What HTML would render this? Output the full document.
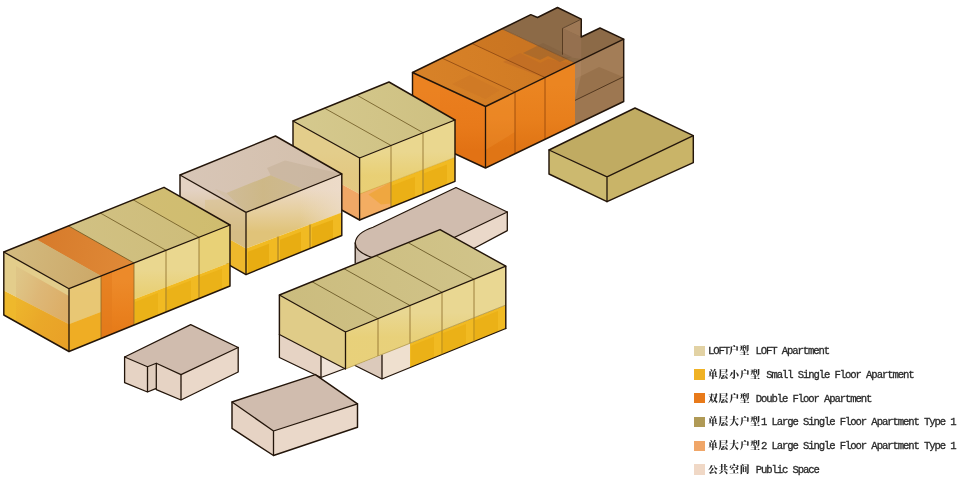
<!DOCTYPE html>
<html lang="zh"><head><meta charset="utf-8"><title>Apartment types</title>
<style>
html,body{margin:0;padding:0;background:#fff}
body{width:960px;height:483px;position:relative;overflow:hidden;font-family:"Liberation Mono","Noto Serif CJK SC",serif}
svg{position:absolute;left:0;top:0}
.row{position:absolute;left:694.2px;height:16px;line-height:16px;white-space:pre;font-size:10.6px;color:#2a2a2a}
.row i{position:absolute;left:0;top:2.95px;width:10.5px;height:10.4px;display:block}
.row .t{position:absolute;left:13.8px;top:0.5px}
.row b{font-weight:normal}
.row .zh{font-family:"Liberation Mono","Noto Serif CJK SC",serif;font-weight:900;font-size:9.8px;letter-spacing:0.8px}
.row .en{font-family:"Liberation Mono","Noto Serif CJK SC",monospace;letter-spacing:-1.1px;-webkit-text-stroke:0.3px #2a2a2a}
</style></head><body>
<svg width="960" height="483" viewBox="0 0 960 483">
<defs><linearGradient id="g4l" gradientUnits="userSpaceOnUse" x1="450.0" y1="90.0" x2="450.0" y2="150.0"><stop offset="0" stop-color="#ea7e1e" stop-opacity="1"/><stop offset="0.6" stop-color="#e87a1a" stop-opacity="1"/><stop offset="1" stop-color="#e27214" stop-opacity="1"/></linearGradient><linearGradient id="g4r" gradientUnits="userSpaceOnUse" x1="530.0" y1="85.0" x2="530.0" y2="147.0"><stop offset="0" stop-color="#eb8521" stop-opacity="1"/><stop offset="0.55" stop-color="#e87f1c" stop-opacity="1"/><stop offset="1" stop-color="#e07515" stop-opacity="1"/></linearGradient><linearGradient id="g4t" gradientUnits="userSpaceOnUse" x1="412.5" y1="72.5" x2="575.0" y2="62.9"><stop offset="0" stop-color="#d88228" stop-opacity="1"/><stop offset="1" stop-color="#cf7922" stop-opacity="1"/></linearGradient><linearGradient id="gl1" gradientUnits="userSpaceOnUse" x1="407.3" y1="151.8" x2="407.3" y2="175.7"><stop offset="0" stop-color="#e6c44e" stop-opacity="0"/><stop offset="1" stop-color="#e6c44e" stop-opacity="0.4"/></linearGradient><linearGradient id="gl2" gradientUnits="userSpaceOnUse" x1="326.3" y1="152.2" x2="326.3" y2="175.8"><stop offset="0" stop-color="#e2c070" stop-opacity="0"/><stop offset="1" stop-color="#e2c070" stop-opacity="0.35"/></linearGradient><linearGradient id="g3t" gradientUnits="userSpaceOnUse" x1="293.0" y1="121.0" x2="455.0" y2="120.0"><stop offset="0" stop-color="#d5c98e" stop-opacity="1"/><stop offset="1" stop-color="#cec081" stop-opacity="1"/></linearGradient><linearGradient id="g2l" gradientUnits="userSpaceOnUse" x1="213.0" y1="190.0" x2="213.0" y2="232.0"><stop offset="0" stop-color="#e4d2c3" stop-opacity="1"/><stop offset="0.45" stop-color="#dcc7a6" stop-opacity="1"/><stop offset="1" stop-color="#d4bb85" stop-opacity="1"/></linearGradient><linearGradient id="g2r" gradientUnits="userSpaceOnUse" x1="294.0" y1="190.0" x2="294.0" y2="232.0"><stop offset="0" stop-color="#ebd8c2" stop-opacity="1"/><stop offset="0.5" stop-color="#e6cf9f" stop-opacity="1"/><stop offset="1" stop-color="#e0c379" stop-opacity="1"/></linearGradient><linearGradient id="g2r2" gradientUnits="userSpaceOnUse" x1="300.0" y1="200.0" x2="342.0" y2="200.0"><stop offset="0" stop-color="#eddccb" stop-opacity="0"/><stop offset="1" stop-color="#eddccb" stop-opacity="0.75"/></linearGradient><linearGradient id="g2t" gradientUnits="userSpaceOnUse" x1="180.0" y1="175.0" x2="341.8" y2="174.0"><stop offset="0" stop-color="#d8c6b7" stop-opacity="1"/><stop offset="1" stop-color="#d3bfab" stop-opacity="1"/></linearGradient><linearGradient id="g2c" gradientUnits="userSpaceOnUse" x1="226.0" y1="193.0" x2="300.0" y2="190.0"><stop offset="0" stop-color="#cdb98f" stop-opacity="0.75"/><stop offset="0.5" stop-color="#ccb680" stop-opacity="0.85"/><stop offset="1" stop-color="#cbb78a" stop-opacity="0.8"/></linearGradient><linearGradient id="g1l" gradientUnits="userSpaceOnUse" x1="16.0" y1="280.0" x2="69.0" y2="300.0"><stop offset="0" stop-color="#dcc083" stop-opacity="0.6"/><stop offset="0.45" stop-color="#dcb272" stop-opacity="0.8"/><stop offset="1" stop-color="#dba860" stop-opacity="0.85"/></linearGradient><linearGradient id="g1l2" gradientUnits="userSpaceOnUse" x1="16.0" y1="300.0" x2="69.0" y2="330.0"><stop offset="0" stop-color="#ecb22c" stop-opacity="0.5"/><stop offset="0.5" stop-color="#e9a428" stop-opacity="0.8"/><stop offset="1" stop-color="#e89c26" stop-opacity="0.8"/></linearGradient><linearGradient id="gl3" gradientUnits="userSpaceOnUse" x1="149.5" y1="269.6" x2="149.5" y2="293.4"><stop offset="0" stop-color="#e6c44e" stop-opacity="0"/><stop offset="1" stop-color="#e6c44e" stop-opacity="0.4"/></linearGradient><linearGradient id="g1or" gradientUnits="userSpaceOnUse" x1="117.0" y1="280.0" x2="117.0" y2="336.0"><stop offset="0" stop-color="#ec8a2a" stop-opacity="1"/><stop offset="0.5" stop-color="#ea8220" stop-opacity="1"/><stop offset="1" stop-color="#e57a18" stop-opacity="1"/></linearGradient><linearGradient id="g1t" gradientUnits="userSpaceOnUse" x1="3.8" y1="252.0" x2="230.0" y2="225.0"><stop offset="0" stop-color="#d3c388" stop-opacity="1"/><stop offset="1" stop-color="#cdbc78" stop-opacity="1"/></linearGradient><linearGradient id="g1o" gradientUnits="userSpaceOnUse" x1="35.6" y1="239.1" x2="134.0" y2="263.0"><stop offset="0" stop-color="#d67a2a" stop-opacity="1"/><stop offset="1" stop-color="#e08a38" stop-opacity="1"/></linearGradient><linearGradient id="g1f" gradientUnits="userSpaceOnUse" x1="3.8" y1="252.0" x2="101.0" y2="276.0"><stop offset="0" stop-color="#d3bb80" stop-opacity="1"/><stop offset="1" stop-color="#cca868" stop-opacity="1"/></linearGradient><linearGradient id="gp1" gradientUnits="userSpaceOnUse" x1="355.0" y1="250.0" x2="372.0" y2="250.0"><stop offset="0" stop-color="#cdbfb4" stop-opacity="1"/><stop offset="1" stop-color="#e4d3c6" stop-opacity="1"/></linearGradient><linearGradient id="gl4" gradientUnits="userSpaceOnUse" x1="425.6" y1="312.4" x2="425.6" y2="337.0"><stop offset="0" stop-color="#e6c44e" stop-opacity="0"/><stop offset="1" stop-color="#e6c44e" stop-opacity="0.35"/></linearGradient><linearGradient id="g5t" gradientUnits="userSpaceOnUse" x1="279.4" y1="295.0" x2="505.8" y2="266.2"><stop offset="0" stop-color="#cbbc7e" stop-opacity="1"/><stop offset="1" stop-color="#d1c48a" stop-opacity="1"/></linearGradient></defs>
<!-- block 4 double floor + large type 1 -->
<polygon points="581.3,19.2 562.5,28.3 562.5,58.3 581.3,49.2" fill="#9e7855"/>
<polygon points="412.5,72.5 485.5,106.5 485.5,168.0 412.5,134.0" fill="url(#g4l)"/>
<polygon points="485.5,106.5 575.0,62.9 575.0,124.9 485.5,168.0" fill="url(#g4r)"/>
<polygon points="575.0,62.9 623.7,39.2 623.7,101.5 575.0,124.9" fill="#a37d57"/>
<polygon points="575.0,100.4 623.7,76.7 623.7,101.5 575.0,124.9" fill="#9d7751"/>
<polygon points="575.0,62.9 581.0,60.0 581.0,76.0 575.0,79.0" fill="#ab8560" fill-opacity="0.7"/>
<polygon points="581.0,76.0 599.0,67.0 623.7,77.2 575.0,100.0" fill="#96704a" fill-opacity="0.85"/>
<line x1="575.0" y1="100.4" x2="623.7" y2="76.7" stroke="#4a3018" stroke-width="0.9"/>
<polygon points="412.5,72.5 502.0,28.9 575.0,62.9 485.5,106.5" fill="url(#g4t)"/>
<polygon points="502.0,28.9 530.8,14.7 537.5,17.5 557.5,7.5 581.3,19.2 562.5,28.3 581.2,37.0 600.0,28.0 623.7,39.2 575.0,62.9" fill="#8c6a47"/>
<polygon points="562.5,28.3 581.2,37.0 581.2,59.0 562.5,56.3" fill="#977251" fill-opacity="0.8"/>
<polygon points="472.0,43.5 502.0,28.9 575.0,62.9 545.0,77.5" fill="#b9681f" fill-opacity="0.3"/>
<polygon points="503.0,62.0 520.0,53.0 540.0,63.0 548.0,59.0 574.0,64.0 545.0,78.0" fill="#bd6a26" fill-opacity="0.55"/>
<polygon points="523.0,53.0 543.0,43.0 572.0,57.0 560.0,62.0 548.0,56.0 540.0,60.0" fill="#7a5a3a" fill-opacity="0.35"/>
<polygon points="452.0,84.0 470.0,75.0 500.0,90.0 485.5,99.0" fill="#c87426" fill-opacity="0.35"/>
<polygon points="485.5,106.5 515.0,92.1 515.0,132.1 485.5,150.0" fill="#f59a3a" fill-opacity="0.25"/>
<polygon points="412.5,72.5 440.0,85.5 440.0,125.0 412.5,112.0" fill="#f08a2a" fill-opacity="0.3"/>
<line x1="515.0" y1="92.1" x2="515.0" y2="153.8" stroke="#9a4a0c" stroke-width="0.9"/>
<line x1="515.0" y1="92.1" x2="442.0" y2="58.1" stroke="#8a4510" stroke-width="0.8"/>
<line x1="545.0" y1="77.5" x2="545.0" y2="139.4" stroke="#9a4a0c" stroke-width="0.9"/>
<line x1="545.0" y1="77.5" x2="472.0" y2="43.5" stroke="#8a4510" stroke-width="0.8"/>
<line x1="575.0" y1="62.9" x2="502.0" y2="28.9" stroke="#7a4a20" stroke-width="0.7"/>
<path d="M412.5,72.5 L530.8,14.7 L537.5,17.5 L557.5,7.5 L581.3,19.2 L581.2,37.0 L600.0,28.0 L623.7,39.2 L485.5,106.5 Z" fill="none" stroke="#23150a" stroke-width="1.45" stroke-linejoin="round" stroke-linecap="round"/>
<path d="M581.3,19.2 L562.5,28.3 L562.5,54.3" fill="none" stroke="#4a3018" stroke-width="0.8" stroke-linejoin="round" stroke-linecap="round"/>
<path d="M412.5,72.5 L412.5,134.0 L485.5,168.0 L623.7,101.5 L623.7,39.2" fill="none" stroke="#23150a" stroke-width="1.45" stroke-linejoin="round" stroke-linecap="round"/>
<line x1="485.5" y1="106.5" x2="485.5" y2="168.0" stroke="#23150a" stroke-width="1.3"/>
<!-- block 6 large type 1 -->
<polygon points="549.0,150.0 607.0,176.8 607.0,201.7 549.0,174.0" fill="#ccb96f"/>
<polygon points="607.0,176.8 693.3,135.7 693.3,162.6 607.0,201.7" fill="#c9b468"/>
<polygon points="549.0,150.0 635.0,108.0 693.3,135.7 607.0,176.8" fill="#c0ab62"/>
<path d="M549.0,150.0 L635.0,108.0 L693.3,135.7 L693.3,162.6 L607.0,201.7 L549.0,174.0 Z" fill="none" stroke="#23150a" stroke-width="1.45" stroke-linejoin="round" stroke-linecap="round"/>
<path d="M549.0,150.0 L607.0,176.8 L693.3,135.7 M607.0,176.8 L607.0,201.7" fill="none" stroke="#23150a" stroke-width="1.3" stroke-linejoin="round" stroke-linecap="round"/>
<!-- block 3 loft -->
<polygon points="293.0,121.0 359.6,158.0 359.6,194.0 293.0,157.5" fill="#e3cd8b"/>
<polygon points="293.0,157.5 359.6,194.0 359.6,220.0 293.0,183.0" fill="#f0a766"/>
<polygon points="359.6,158.0 455.0,120.0 455.0,157.3 359.6,194.0" fill="#ead78f"/>
<polygon points="359.6,158.0 455.0,120.0 455.0,157.3 359.6,194.0" fill="url(#gl1)"/>
<polygon points="293.0,121.0 359.6,158.0 359.6,194.0 293.0,157.5" fill="url(#gl2)"/>
<polygon points="359.6,194.0 455.0,157.3 455.0,181.3 359.6,220.0" fill="#f1ba22"/>
<polygon points="359.6,194.0 391.0,181.9 391.0,207.3 359.6,220.0" fill="#f3ad62"/>
<polygon points="392.0,185.5 415.0,176.7 415.0,197.5 392.0,206.9" fill="#e6a80c" fill-opacity="0.55"/>
<polygon points="424.0,173.2 447.0,164.4 447.0,184.5 424.0,193.9" fill="#e6a80c" fill-opacity="0.55"/>
<polygon points="368.4,194.5 391.0,181.9 391.0,203.5 381.0,204.5" fill="#eda536" fill-opacity="0.75"/>
<polygon points="293.0,121.0 389.0,82.0 455.0,120.0 359.6,158.0" fill="url(#g3t)"/>
<line x1="391.0" y1="145.5" x2="391.0" y2="207.3" stroke="#8a6a2a" stroke-width="0.8"/>
<line x1="391.0" y1="145.5" x2="324.6" y2="108.2" stroke="#6b5520" stroke-width="0.8"/>
<line x1="423.0" y1="132.7" x2="423.0" y2="194.3" stroke="#8a6a2a" stroke-width="0.8"/>
<line x1="423.0" y1="132.7" x2="356.8" y2="95.1" stroke="#6b5520" stroke-width="0.8"/>
<line x1="359.6" y1="194.0" x2="455.0" y2="157.3" stroke="#b8952e" stroke-width="0.6" stroke-opacity="0.6"/>
<path d="M293.0,121.0 L389.0,82.0 L455.0,120.0 L455.0,181.3 L359.6,220.0 L293.0,183.0 Z" fill="none" stroke="#23150a" stroke-width="1.45" stroke-linejoin="round" stroke-linecap="round"/>
<path d="M293.0,121.0 L359.6,158.0 L455.0,120.0 M359.6,158.0 L359.6,220.0" fill="none" stroke="#23150a" stroke-width="1.3" stroke-linejoin="round" stroke-linecap="round"/>
<!-- block 2 public over small single floor -->
<polygon points="180.0,175.0 246.0,212.4 246.0,248.5 180.0,211.5" fill="url(#g2l)"/>
<polygon points="180.0,211.5 246.0,248.5 246.0,274.6 180.0,237.0" fill="#eeb82c"/>
<polygon points="246.0,212.4 341.8,174.0 341.8,212.4 246.0,248.5" fill="url(#g2r)"/>
<polygon points="300.0,191.0 341.8,174.0 341.8,212.4 300.0,228.5" fill="url(#g2r2)"/>
<polygon points="246.0,248.5 341.8,212.4 341.8,235.5 246.0,274.6" fill="#f1ba22"/>
<polygon points="248.0,251.7 269.0,243.8 269.0,265.2 248.0,273.8" fill="#e3a508" fill-opacity="0.6"/>
<polygon points="280.0,239.7 301.0,231.8 301.0,252.2 280.0,260.7" fill="#e3a508" fill-opacity="0.6"/>
<polygon points="312.0,227.6 333.0,219.7 333.0,239.1 312.0,247.7" fill="#e3a508" fill-opacity="0.6"/>
<polygon points="180.0,175.0 275.5,136.0 341.8,174.0 246.0,212.4" fill="url(#g2t)"/>
<polygon points="270.6,175.2 267.0,168.0 285.0,160.5 341.8,174.0 302.5,188.6" fill="#c8b49e" fill-opacity="0.75"/>
<polygon points="226.4,193.0 270.6,175.2 302.5,188.6 246.0,212.4" fill="url(#g2c)"/>
<polygon points="215.0,189.0 226.4,193.0 246.0,212.4 236.0,206.5" fill="#cfbb9c" fill-opacity="0.5"/>
<polygon points="205.0,200.0 226.0,199.0 246.0,212.4 246.0,248.5 205.0,225.5" fill="#d6bf86" fill-opacity="0.45"/>
<line x1="278.0" y1="236.4" x2="278.0" y2="261.5" stroke="#8a6a2a" stroke-width="0.8"/>
<line x1="310.0" y1="224.4" x2="310.0" y2="248.5" stroke="#8a6a2a" stroke-width="0.8"/>
<path d="M180.0,175.0 L275.5,136.0 L341.8,174.0 L341.8,235.5 L246.0,274.6 L180.0,237.0 Z" fill="none" stroke="#23150a" stroke-width="1.45" stroke-linejoin="round" stroke-linecap="round"/>
<path d="M180.0,175.0 L246.0,212.4 L341.8,174.0 M246.0,212.4 L246.0,274.6" fill="none" stroke="#23150a" stroke-width="1.3" stroke-linejoin="round" stroke-linecap="round"/>
<!-- block 1 loft with double floor unit -->
<polygon points="3.8,252.0 69.0,288.7 69.0,324.2 3.8,290.5" fill="#e3cd8b"/>
<polygon points="3.8,290.5 69.0,324.2 69.0,351.5 3.8,315.0" fill="#eeb82c"/>
<polygon points="16.0,266.0 69.0,296.0 69.0,324.2 16.0,297.0" fill="url(#g1l)"/>
<polygon points="16.0,297.0 69.0,324.2 69.0,351.5 16.0,321.5" fill="url(#g1l2)"/>
<polygon points="69.0,288.7 230.0,225.0 230.0,262.6 69.0,324.2" fill="#ead78f"/>
<polygon points="69.0,288.7 230.0,225.0 230.0,262.6 69.0,324.2" fill="url(#gl3)"/>
<polygon points="69.0,324.2 230.0,262.6 230.0,286.0 69.0,351.5" fill="#f1ba22"/>
<polygon points="101.0,276.0 134.0,263.0 134.0,325.1 101.0,338.5" fill="url(#g1or)"/>
<polygon points="101.0,276.0 112.0,271.7 112.0,334.0 101.0,338.5" fill="#e27a1c" fill-opacity="0.5"/>
<polygon points="69.0,288.7 101.0,276.0 101.0,312.0 69.0,324.2" fill="#e8c574" fill-opacity="0.9"/>
<polygon points="69.0,324.2 101.0,312.0 101.0,338.5 69.0,351.5" fill="#eeaa24" fill-opacity="0.85"/>
<polygon points="135.0,301.9 158.0,293.1 158.0,315.3 135.0,324.6" fill="#e5a90e" fill-opacity="0.5"/>
<polygon points="167.0,289.7 191.0,280.5 191.0,301.9 167.0,311.6" fill="#e5a90e" fill-opacity="0.5"/>
<polygon points="200.0,277.1 222.0,268.7 222.0,289.3 200.0,298.2" fill="#e5a90e" fill-opacity="0.5"/>
<polygon points="199.0,237.3 230.0,225.0 230.0,262.6 199.0,274.5" fill="#e6c95a" fill-opacity="0.45"/>
<polygon points="3.8,252.0 164.0,187.3 230.0,225.0 69.0,288.7" fill="url(#g1t)"/>
<polygon points="199.0,237.3 230.0,225.0 164.0,187.3 133.2,199.8" fill="#d4bd5e" fill-opacity="0.35"/>
<polygon points="101.0,276.0 134.0,263.0 68.5,225.9 35.6,239.1" fill="url(#g1o)"/>
<polygon points="69.0,288.7 101.0,276.0 35.6,239.1 3.8,252.0" fill="url(#g1f)"/>
<line x1="101.0" y1="276.0" x2="101.0" y2="338.5" stroke="#8a6a2a" stroke-width="0.8"/>
<line x1="134.0" y1="263.0" x2="134.0" y2="325.1" stroke="#8a6a2a" stroke-width="0.8"/>
<line x1="134.0" y1="263.0" x2="68.5" y2="225.9" stroke="#6b5520" stroke-width="0.8"/>
<line x1="166.0" y1="250.3" x2="166.0" y2="312.0" stroke="#8a6a2a" stroke-width="0.8"/>
<line x1="166.0" y1="250.3" x2="100.3" y2="213.0" stroke="#6b5520" stroke-width="0.8"/>
<line x1="199.0" y1="237.3" x2="199.0" y2="298.6" stroke="#8a6a2a" stroke-width="0.8"/>
<line x1="199.0" y1="237.3" x2="133.2" y2="199.8" stroke="#6b5520" stroke-width="0.8"/>
<path d="M3.8,252.0 L164.0,187.3 L230.0,225.0 L230.0,286.0 L69.0,351.5 L3.8,315.0 Z" fill="none" stroke="#23150a" stroke-width="1.45" stroke-linejoin="round" stroke-linecap="round"/>
<path d="M3.8,252.0 L69.0,288.7 L230.0,225.0 M69.0,288.7 L69.0,351.5" fill="none" stroke="#23150a" stroke-width="1.3" stroke-linejoin="round" stroke-linecap="round"/>
<!-- public space with rounded end -->
<polygon points="507.3,212.0 507.3,230.6 440.0,266.5 440.0,244.0" fill="#ead8c9"/>
<path d="M355,243 L355,263 L385,275 L385,258 Z" fill="url(#gp1)"/>
<path d="M456,187.5 L507.3,212 L400,263.5 L372,257.5 Q355.5,252 355.2,243 Q356,233 373,227.3 Z" fill="#d0bcae" stroke="#23150a" stroke-width="1.2" stroke-linejoin="round" stroke-linecap="round"/>
<path d="M507.3,212 L507.3,230.6 L470,250.5 M355.2,243 L355.2,263" fill="none" stroke="#23150a" stroke-width="1.3" stroke-linejoin="round" stroke-linecap="round"/>
<!-- block 5 loft over public / small single floor -->
<polygon points="279.4,334.5 321.0,356.0 321.0,377.5 279.4,357.5" fill="#e6d3c4"/>
<polygon points="321.0,356.0 345.5,369.0 345.5,368.0 321.0,377.5" fill="#f0e3d8"/>
<polygon points="382.0,355.0 382.0,379.0 355.0,365.5" fill="#dccabb"/>
<polygon points="382.0,354.5 410.0,343.2 410.0,367.6 382.0,379.0" fill="#efe0cf"/>
<polygon points="410.0,343.2 505.8,305.0 505.8,328.5 410.0,367.6" fill="#f1ba22"/>
<polygon points="411.0,345.8 434.0,336.7 434.0,357.8 411.0,367.2" fill="#e6a80c" fill-opacity="0.5"/>
<polygon points="443.0,333.1 466.0,323.9 466.0,344.7 443.0,354.1" fill="#e6a80c" fill-opacity="0.5"/>
<polygon points="475.0,320.3 498.0,311.1 498.0,331.7 475.0,341.1" fill="#e6a80c" fill-opacity="0.5"/>
<path d="M279.4,334.5 L279.4,357.5 L321,377.5 L345,368.5 M321,356 L321,377.5 M355,365.5 L382,379 L505.8,328.5 M382,355 L382,379" fill="none" stroke="#23150a" stroke-width="1.3" stroke-linejoin="round" stroke-linecap="round"/>
<polygon points="279.4,295.0 345.5,332.0 345.5,369.0 279.4,334.5" fill="#e0cc88"/>
<polygon points="345.5,332.0 505.8,266.2 505.8,305.0 345.5,369.0" fill="#e9d792"/>
<polygon points="345.5,332.0 505.8,266.2 505.8,305.0 345.5,369.0" fill="url(#gl4)"/>
<polygon points="279.4,295.0 440.0,229.6 505.8,266.2 345.5,332.0" fill="url(#g5t)"/>
<line x1="378.0" y1="318.7" x2="378.0" y2="356.0" stroke="#8a6a2a" stroke-width="0.8"/>
<line x1="378.0" y1="318.7" x2="312.0" y2="281.7" stroke="#5e4c1c" stroke-width="0.8"/>
<line x1="410.0" y1="305.5" x2="410.0" y2="343.2" stroke="#8a6a2a" stroke-width="0.8"/>
<line x1="410.0" y1="305.5" x2="344.0" y2="268.7" stroke="#5e4c1c" stroke-width="0.8"/>
<line x1="442.0" y1="292.4" x2="442.0" y2="330.5" stroke="#8a6a2a" stroke-width="0.8"/>
<line x1="442.0" y1="292.4" x2="376.1" y2="255.6" stroke="#5e4c1c" stroke-width="0.8"/>
<line x1="474.0" y1="279.3" x2="474.0" y2="317.7" stroke="#8a6a2a" stroke-width="0.8"/>
<line x1="474.0" y1="279.3" x2="408.1" y2="242.6" stroke="#5e4c1c" stroke-width="0.8"/>
<line x1="442.0" y1="330.5" x2="442.0" y2="354.5" stroke="#a57a12" stroke-width="0.8"/>
<line x1="474.0" y1="317.7" x2="474.0" y2="341.5" stroke="#a57a12" stroke-width="0.8"/>
<line x1="279.4" y1="334.5" x2="345.5" y2="369.0" stroke="#23150a" stroke-width="1.2"/>
<line x1="345.5" y1="369.0" x2="505.8" y2="305.0" stroke="#a58a3e" stroke-width="0.7"/>
<path d="M279.4,334.5 L279.4,295.0 L440.0,229.6 L505.8,266.2 L505.8,328.5" fill="none" stroke="#23150a" stroke-width="1.45" stroke-linejoin="round" stroke-linecap="round"/>
<path d="M279.4,295.0 L345.5,332.0 L505.8,266.2 M345.5,332.0 L345.5,369.0" fill="none" stroke="#23150a" stroke-width="1.3" stroke-linejoin="round" stroke-linecap="round"/>
<!-- public space L -->
<polygon points="124.6,357.0 147.5,366.8 147.5,392.0 124.6,382.7" fill="#e6d3c4"/>
<polygon points="147.5,366.8 156.3,363.3 156.3,388.4 147.5,392.0" fill="#e0cdbd"/>
<polygon points="156.3,363.3 181.0,374.6 181.0,400.0 156.3,389.7" fill="#e6d3c4"/>
<polygon points="181.0,374.6 238.2,347.5 238.2,372.0 181.0,400.0" fill="#ead8c9"/>
<polygon points="124.6,357.0 190.7,324.6 238.2,347.5 181.0,374.6 156.3,363.3 147.5,366.8" fill="#d0bcae" stroke="#23150a" stroke-width="1.2" stroke-linejoin="round"/>
<path d="M124.6,357 L124.6,382.7 L147.5,392 L147.5,366.8 M147.5,392 L156.3,388.4 M156.3,363.3 L156.3,389.7 L181,400 L238.2,372 L238.2,347.5 M181,374.6 L181,400" fill="none" stroke="#23150a" stroke-width="1.3" stroke-linejoin="round" stroke-linecap="round"/>
<!-- public space -->
<polygon points="232.0,402.0 273.5,431.0 273.5,455.5 232.0,428.4" fill="#e6d3c4"/>
<polygon points="273.5,431.0 357.5,403.8 357.5,427.3 273.5,455.5" fill="#ead8c9"/>
<polygon points="232.0,402.0 315.3,374.6 357.5,403.8 273.5,431.0" fill="#d0bcae"/>
<path d="M232.0,402.0 L315.3,374.6 L357.5,403.8 L357.5,427.3 L273.5,455.5 L232.0,428.4 Z" fill="none" stroke="#23150a" stroke-width="1.45" stroke-linejoin="round" stroke-linecap="round"/>
<path d="M232.0,402.0 L273.5,431.0 L357.5,403.8 M273.5,431.0 L273.5,455.5" fill="none" stroke="#23150a" stroke-width="1.3" stroke-linejoin="round" stroke-linecap="round"/>
</svg>
<div class="row" style="top:342.6px"><i style="background:#e2d2a4"></i><span class="t"><b class="en">LOFT</b><b class="zh">户型</b><b class="en"> LOFT Apartment</b></span></div>
<div class="row" style="top:366.4px"><i style="background:#f0b224"></i><span class="t"><b class="zh">单层小户型</b><b class="en"> Small Single Floor Apartment</b></span></div>
<div class="row" style="top:390.1px"><i style="background:#e87a1a"></i><span class="t"><b class="zh">双层户型</b><b class="en"> Double Floor Apartment</b></span></div>
<div class="row" style="top:413.9px"><i style="background:#b09a56"></i><span class="t"><b class="zh">单层大户型</b><b class="en">1 Large Single Floor Apartment Type 1</b></span></div>
<div class="row" style="top:437.6px"><i style="background:#f0a668"></i><span class="t"><b class="zh">单层大户型</b><b class="en">2 Large Single Floor Apartment Type 1</b></span></div>
<div class="row" style="top:461.4px"><i style="background:#f0d8c6"></i><span class="t"><b class="zh">公共空间</b><b class="en"> Public Space</b></span></div>
</body></html>
